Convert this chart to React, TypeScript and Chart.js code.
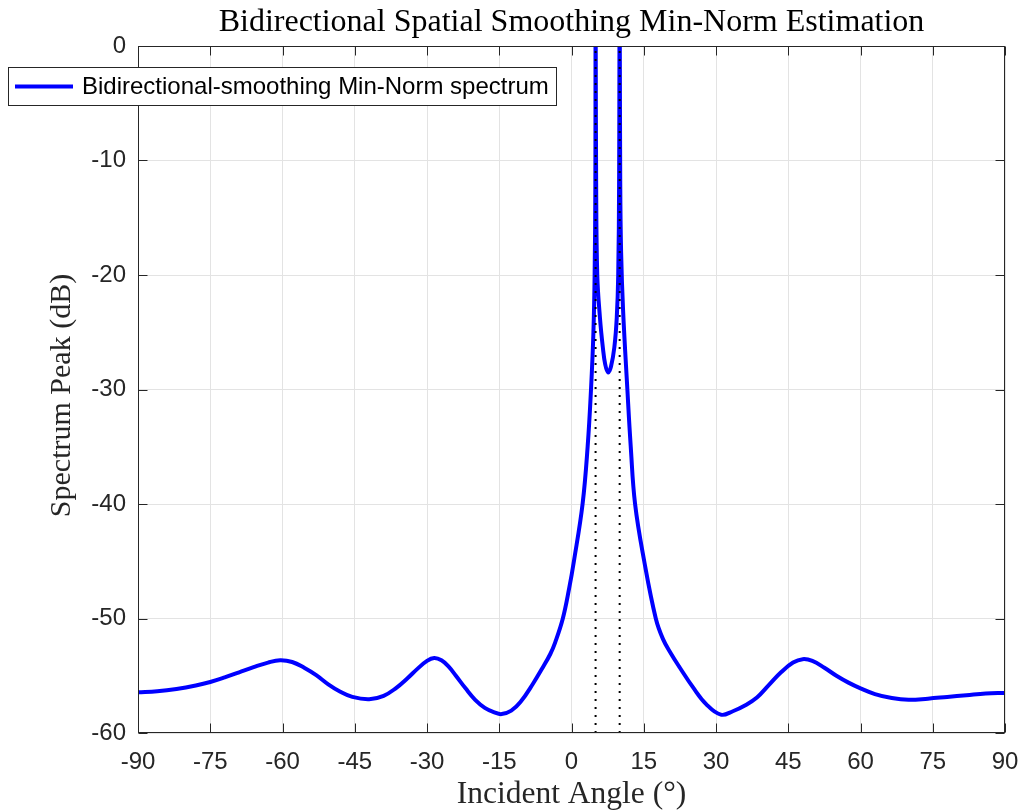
import React, { useEffect, useRef } from "react";
import { Chart, registerables } from "chart.js";

Chart.register(...registerables);

const chartTitle = "Bidirectional Spatial Smoothing Min-Norm Estimation";
const xAxisTitle = "Incident Angle (°)";
const yAxisTitle = "Spectrum Peak (dB)";
const seriesLabel = "Bidirectional-smoothing Min-Norm spectrum";

const angles = [
  -90, -86, -82, -78, -75, -72, -69, -66, -63, -60.5, -58, -55.5, -53, -50.5,
  -48, -45.5, -42, -39, -36.5, -34, -32, -30, -28.5, -27, -25.5, -24, -22, -20,
  -18, -16, -14.5, -12.5, -10.6, -8, -6, -4.4, -3.4, -1.8, -0.5, 0.5, 2.3,
  3.35, 4.05, 4.55, 4.8, 4.95, 5, 5.12, 5.35, 5.9, 6.5, 7, 7.6, 8.2, 8.9, 9.4,
  9.7, 9.88, 10, 10.12, 10.3, 10.7, 11.6, 12.3, 13.2, 15.1, 17.5, 19, 20.7,
  22.5, 25.2, 28, 31, 33.5, 36, 38.5, 41, 43.5, 46, 48, 50, 52.5, 55, 57.5, 60,
  63, 66.5, 70, 74, 78, 82, 86, 90,
];

const spectrum = [
  -56.45, -56.35, -56.15, -55.85, -55.55, -55.15, -54.7, -54.25, -53.85, -53.65,
  -53.8, -54.3, -54.95, -55.75, -56.4, -56.85, -57.05, -56.75, -56.1, -55.2,
  -54.4, -53.7, -53.45, -53.65, -54.2, -55.0, -56.1, -57.1, -57.8, -58.2,
  -58.35, -58.05, -57.3, -55.7, -54.3, -53.1, -52.1, -50.0, -47.4, -45.0,
  -40.0, -35.0, -30.0, -25.0, -20.0, -12.0, 5, -12, -20, -23.7, -26.3, -27.8,
  -28.5, -28.0, -26.3, -23.7, -20, -12, 5, -12, -18, -23, -30, -35, -40, -45,
  -50, -51.8, -53.1, -54.3, -56.0, -57.5, -58.4, -58.1, -57.6, -56.9, -55.8,
  -54.7, -53.85, -53.55, -53.7, -54.3, -55.0, -55.6, -56.1, -56.6, -56.95,
  -57.1, -57.0, -56.85, -56.7, -56.55, -56.5,
];

const doaAngles = [5, 10];

const xTicks = [-90, -75, -60, -45, -30, -15, 0, 15, 30, 45, 60, 75, 90];
const yTicks = [-60, -50, -40, -30, -20, -10, 0];

const AXIS_COLOR = "#262626";
const SANS = '"Liberation Sans", Arial, Helvetica, sans-serif';
const SERIF = '"Liberation Serif", "Times New Roman", serif';

const decor = {
  id: "decor",
  afterDraw(chart: any) {
    const { ctx, chartArea: a, scales } = chart;
    const xs = scales.x;
    const ys = scales.y;
    ctx.save();
    // box
    ctx.strokeStyle = AXIS_COLOR;
    ctx.lineWidth = 1;
    const L = Math.round(a.left) + 0.5;
    const R = Math.round(a.right) - 0.5;
    const T = Math.round(a.top) + 0.5;
    const B = Math.round(a.bottom) - 0.5;
    ctx.strokeRect(L, T, R - L, B - T);
    // inward ticks
    const tl = 9;
    ctx.beginPath();
    xTicks.forEach((v) => {
      const px = Math.round(xs.getPixelForValue(v)) + 0.5;
      ctx.moveTo(px, B);
      ctx.lineTo(px, B - tl);
      ctx.moveTo(px, T);
      ctx.lineTo(px, T + tl);
    });
    yTicks.forEach((v) => {
      const py = Math.round(ys.getPixelForValue(v)) + 0.5;
      ctx.moveTo(L, py);
      ctx.lineTo(L + tl, py);
      ctx.moveTo(R, py);
      ctx.lineTo(R - tl, py);
    });
    ctx.stroke();

    // title
    const cx = (a.left + a.right) / 2;
    ctx.fillStyle = "#000";
    ctx.font = `32px ${SERIF}`;
    ctx.textAlign = "center";
    ctx.textBaseline = "alphabetic";
    ctx.fillText(chartTitle, cx, 31);

    // x axis title
    ctx.fillStyle = AXIS_COLOR;
    ctx.font = `31.5px ${SERIF}`;
    ctx.fillText(xAxisTitle, cx, 803);

    // y axis title
    ctx.save();
    ctx.translate(70, (a.top + a.bottom) / 2 + 6);
    ctx.rotate(-Math.PI / 2);
    ctx.font = `30px ${SERIF}`;
    ctx.fillText(yAxisTitle, 0, 0);
    ctx.restore();

    // legend
    const lx = 8, ly = 67, lw = 548, lh = 38;
    ctx.fillStyle = "#fff";
    ctx.fillRect(lx, ly, lw, lh);
    ctx.strokeStyle = AXIS_COLOR;
    ctx.lineWidth = 1;
    ctx.strokeRect(lx + 0.5, ly + 0.5, lw, lh);
    const my = ly + lh / 2 + 0.5;
    ctx.strokeStyle = "#0000ff";
    ctx.lineWidth = 4;
    ctx.beginPath();
    ctx.moveTo(15, my);
    ctx.lineTo(73, my);
    ctx.stroke();
    ctx.fillStyle = "#000";
    ctx.font = `24px ${SANS}`;
    ctx.textAlign = "left";
    ctx.textBaseline = "middle";
    ctx.fillText(seriesLabel, 82, my + 1);
    ctx.restore();
  },
};

export default function App() {
  const ref = useRef<HTMLCanvasElement>(null);
  useEffect(() => {
    if (!ref.current) return;
    const mainData = angles.map((x, i) => ({ x, y: spectrum[i] }));
    const chart = new Chart(ref.current, {
      type: "line",
      data: {
        datasets: [
          {
            label: seriesLabel,
            data: mainData,
            borderColor: "#0000ff",
            backgroundColor: "#0000ff",
            borderWidth: 4,
            pointRadius: 0,
            tension: 0.4,
            borderJoinStyle: "round",
            order: 1,
          } as any,
          ...doaAngles.map(
            (d) =>
              ({
                label: `DOA ${d}`,
                data: [
                  { x: d, y: yTicks[0] },
                  { x: d, y: yTicks[yTicks.length - 1] },
                ],
                borderColor: "#000",
                borderWidth: 2,
                borderDash: [2, 6],
                pointRadius: 0,
                order: 0,
              } as any)
          ),
        ],
      },
      options: {
        responsive: false,
        animation: false,
        layout: { padding: { top: 46, right: 19, left: 0, bottom: 0 } },
        plugins: {
          legend: { display: false },
          title: { display: false },
          tooltip: { enabled: false },
        },
        scales: {
          x: {
            type: "linear",
            min: xTicks[0],
            max: xTicks[xTicks.length - 1],
            afterBuildTicks: (s: any) => {
              s.ticks = xTicks.map((value) => ({ value }));
            },
            afterFit: (s: any) => {
              s.height = 79;
              s.paddingLeft = 0;
              s.paddingRight = 0;
            },
            grid: { color: "#e3e3e3", drawTicks: false, lineWidth: 1 },
            border: { display: false },
            ticks: {
              font: { family: SANS, size: 24 },
              color: AXIS_COLOR,
              padding: 15,
              maxRotation: 0,
              autoSkip: false,
              callback: (v: any) => String(v),
            },
          },
          y: {
            type: "linear",
            min: yTicks[0],
            max: yTicks[yTicks.length - 1],
            afterBuildTicks: (s: any) => {
              s.ticks = yTicks.map((value) => ({ value }));
            },
            afterFit: (s: any) => {
              s.width = 138;
              s.paddingTop = 0;
              s.paddingBottom = 0;
            },
            grid: { color: "#e3e3e3", drawTicks: false, lineWidth: 1 },
            border: { display: false },
            ticks: {
              font: { family: SANS, size: 24 },
              color: AXIS_COLOR,
              padding: 12,
              autoSkip: false,
              callback: (v: any) => String(v),
            },
          },
        },
      } as any,
      plugins: [decor],
    });
    return () => chart.destroy();
  }, []);
  return (
    <div style={{ position: "absolute", left: 0, top: 0, width: 1024, height: 812, background: "#fff" }}>
      <canvas ref={ref} width={1024} height={812} style={{ display: "block" }} />
    </div>
  );
}
